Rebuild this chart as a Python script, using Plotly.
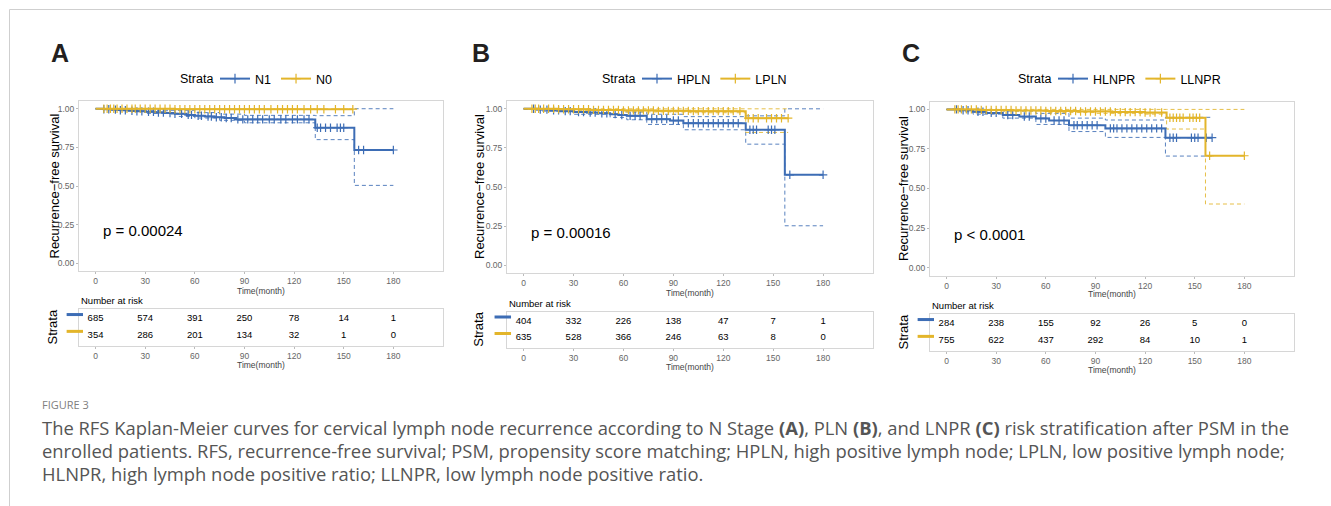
import plotly.graph_objects as go

W, H = 1331, 506
BLUE = "#3D6DB5"
YELLOW = "#E3B52A"
FONT = "Liberation Sans, Arial, sans-serif"
CAPFONT = "Open Sans, sans-serif"

months = [0, 30, 60, 90, 120, 150, 180]

# ---------------- Panel A : N stage ----------------
A_n1_t = [0, 5, 10, 15, 20, 25, 30, 36, 42, 48, 55, 60, 66, 72, 78, 85, 132.8, 156.4]
A_n1_s = [1.0, 0.997, 0.994, 0.99, 0.987, 0.983, 0.98, 0.976, 0.972, 0.967, 0.96, 0.955, 0.95, 0.945, 0.94, 0.931, 0.877, 0.733]
A_n1_end = 180
A_n1_up_t = [0, 30, 60, 75, 90, 132.8, 156.4]
A_n1_up = [1.0, 0.99, 0.975, 0.965, 0.957, 0.955, 1.0]
A_n1_lo_t = [0, 10, 30, 50, 60, 75, 90, 132.8, 156.4]
A_n1_lo = [1.0, 0.99, 0.97, 0.95, 0.94, 0.925, 0.909, 0.80, 0.504]
A_n1_cens = [5, 8, 12, 15, 18, 22, 25, 28, 32, 35, 38, 41, 45, 48, 52, 56, 58, 62, 64, 68, 70, 73, 76,
             79, 82, 86, 89, 92, 95, 98, 101, 105, 108, 112, 115, 119, 122, 126, 129, 134, 136, 139,
             142, 146, 148, 150, 159, 162, 180]
A_n0_t = [0, 48]
A_n0_s = [1.0, 0.997]
A_n0_end = 155.5
A_n0_cens = [5, 7, 9, 11, 13, 16, 19, 22, 24, 27, 30, 33, 36, 39, 42, 45, 48, 51, 54, 57, 60, 63, 66,
             69, 72, 75, 78, 81, 84, 87, 90, 93, 96, 99, 102, 106, 110, 113, 116, 119, 122, 126, 130,
             134, 138, 145, 150, 155.5]
A_names = ["N1", "N0"]
A_risk1 = [685, 574, 391, 250, 78, 14, 1]
A_risk2 = [354, 286, 201, 134, 32, 1, 0]
A_p = "p = 0.00024"

# ---------------- Panel B : PLN ----------------
B_h_t = [0, 8, 15, 22, 30, 38, 45, 52, 57, 62, 74, 88, 96, 133.5, 157]
B_h_s = [1.0, 0.995, 0.99, 0.985, 0.98, 0.976, 0.971, 0.966, 0.96, 0.955, 0.934, 0.925, 0.908, 0.866, 0.578]
B_h_end = 180
B_h_up_t = [0, 30, 60, 74, 96, 133.5, 157]
B_h_up = [1.0, 0.995, 0.98, 0.965, 0.95, 0.955, 1.0]
B_h_lo_t = [0, 10, 30, 52, 62, 74, 96, 133.5, 157]
B_h_lo = [1.0, 0.985, 0.965, 0.945, 0.93, 0.9, 0.866, 0.774, 0.252]
B_h_cens = [6, 10, 14, 18, 21, 25, 28, 33, 36, 40, 43, 47, 50, 55, 59, 64, 67, 70, 77, 80, 83, 86,
            90, 93, 99, 102, 105, 108, 111, 114, 117, 120, 123, 126, 129, 136, 138, 140, 147, 149, 151,
            160, 180]
B_l_t = [0, 20, 40, 60, 80, 100, 133.5]
B_l_s = [1.0, 0.997, 0.993, 0.99, 0.987, 0.985, 0.94]
B_l_end = 159
B_l_up_t = [0, 133.5]
B_l_up = [1.0, 1.0]
B_l_lo_t = [0, 30, 60, 100, 133.5]
B_l_lo = [1.0, 0.99, 0.98, 0.975, 0.849]
B_l_cens = [5, 7, 9, 12, 15, 18, 21, 24, 27, 30, 33, 36, 39, 42, 45, 48, 51, 54, 57, 60, 63, 66, 69,
            72, 75, 78, 81, 84, 87, 90, 93, 96, 99, 102, 105, 108, 111, 114, 117, 120, 123, 126, 130,
            135, 138, 141, 146, 149, 152, 155, 159]
B_names = ["HPLN", "LPLN"]
B_risk1 = [404, 332, 226, 138, 47, 7, 1]
B_risk2 = [635, 528, 366, 246, 63, 8, 0]
B_p = "p = 0.00016"

# ---------------- Panel C : LNPR ----------------
C_h_t = [0, 8, 16, 24, 34, 44, 54, 62, 74, 96, 132.3]
C_h_s = [1.0, 0.995, 0.985, 0.978, 0.964, 0.955, 0.943, 0.93, 0.90, 0.88, 0.821]
C_h_end = 160.5
C_h_up_t = [0, 16, 34, 54, 74, 96, 132.3]
C_h_up = [1.0, 0.997, 0.99, 0.975, 0.945, 0.933, 0.95]
C_h_lo_t = [0, 8, 16, 34, 54, 74, 96, 132.3]
C_h_lo = [1.0, 0.985, 0.97, 0.945, 0.905, 0.86, 0.823, 0.705]
C_h_cens = [6, 10, 13, 19, 22, 27, 30, 37, 40, 47, 50, 57, 60, 65, 68, 71, 77, 79, 82, 85, 88, 91,
            99, 101, 103, 106, 109, 112, 115, 118, 121, 124, 127, 130, 135, 137, 139, 148, 150, 152,
            157, 160.5]
C_l_t = [0, 20, 40, 60, 80, 100, 120, 133, 156.5]
C_l_s = [1.0, 0.997, 0.993, 0.99, 0.987, 0.983, 0.98, 0.947, 0.707]
C_l_end = 180
C_l_up_t = [0, 133]
C_l_up = [1.0, 1.0]
C_l_lo_t = [0, 30, 60, 90, 120, 133, 156.5]
C_l_lo = [1.0, 0.99, 0.98, 0.975, 0.97, 0.876, 0.402]
C_l_cens = [5, 7, 9, 12, 15, 18, 21, 24, 27, 30, 33, 36, 39, 42, 45, 48, 51, 54, 57, 60, 63, 66, 69,
            72, 75, 78, 81, 84, 87, 90, 93, 96, 99, 102, 105, 108, 111, 114, 117, 120, 123, 126, 130,
            135, 137, 139, 141, 143, 147, 149, 151, 153, 159, 180]
C_names = ["HLNPR", "LLNPR"]
C_risk1 = [284, 238, 155, 92, 26, 5, 0]
C_risk2 = [755, 622, 437, 292, 84, 10, 1]
C_p = "p < 0.0001"

caption_head = "FIGURE 3"
caption_lines = [
    "The RFS Kaplan-Meier curves for cervical lymph node recurrence according to N Stage <b>(A)</b>, PLN <b>(B)</b>, and LNPR <b>(C)</b> risk stratification after PSM in the",
    "enrolled patients. RFS, recurrence-free survival; PSM, propensity score matching; HPLN, high positive lymph node; LPLN, low positive lymph node;",
    "HLNPR, high lymph node positive ratio; LLNPR, low lymph node positive ratio.",
]


def step_at(t, ts, ss):
    v = ss[0]
    for ti, si in zip(ts, ss):
        if ti <= t:
            v = si
    return v


def px(x):
    return x / W


def py(y):
    return 1 - y / H


def ann(text, x, y, size, color="black", xanchor="center", angle=0, bold=False, family=FONT):
    return dict(text=f"<b>{text}</b>" if bold else text, x=px(x), y=py(y), xref="paper",
                yref="paper", xanchor=xanchor, yanchor="middle", showarrow=False,
                textangle=angle, font=dict(size=size, family=family, color=color))


fig = go.Figure()
annotations = []
shapes = []

panels = [
    dict(letter="A", names=A_names, p=A_p,
         curves=[(A_n1_t, A_n1_s, A_n1_end, A_n1_up_t, A_n1_up, A_n1_lo_t, A_n1_lo, A_n1_cens, BLUE),
                 (A_n0_t, A_n0_s, A_n0_end, None, None, None, None, A_n0_cens, YELLOW)],
         risk=[A_risk1, A_risk2],
         geo=dict(x0=79, x1=443, kt=101, kb=271, tt=309, tb=346, let=(60, 53), ytitle=53.5,
                  strata=52, tm1=291, nar=300.7, tm2=364.5, strx=178, legx=215)),
    dict(letter="B", names=B_names, p=B_p,
         curves=[(B_h_t, B_h_s, B_h_end, B_h_up_t, B_h_up, B_h_lo_t, B_h_lo, B_h_cens, BLUE),
                 (B_l_t, B_l_s, B_l_end, B_l_up_t, B_l_up, B_l_lo_t, B_l_lo, B_l_cens, YELLOW)],
         risk=[B_risk1, B_risk2],
         geo=dict(x0=507, x1=873, kt=101, kb=273, tt=311.5, tb=348, let=(481, 53), ytitle=479,
                  strata=479, tm1=292.5, nar=303, tm2=367, strx=600, legx=637)),
    dict(letter="C", names=C_names, p=C_p,
         curves=[(C_h_t, C_h_s, C_h_end, C_h_up_t, C_h_up, C_h_lo_t, C_h_lo, C_h_cens, BLUE),
                 (C_l_t, C_l_s, C_l_end, C_l_up_t, C_l_up, C_l_lo_t, C_l_lo, C_l_cens, YELLOW)],
         risk=[C_risk1, C_risk2],
         geo=dict(x0=930, x1=1294, kt=101.5, kb=275.5, tt=314, tb=351, let=(911, 53), ytitle=903.5,
                  strata=903, tm1=294, nar=305.7, tm2=370, strx=1016, legx=1053)),
]

layout = {}
for i, pnl in enumerate(panels):
    g = pnl["geo"]
    ka = 2 * i + 1
    ta = 2 * i + 2
    kx = "x" if ka == 1 else f"x{ka}"
    ky = "y" if ka == 1 else f"y{ka}"
    tx, ty = f"x{ta}", f"y{ta}"
    legname = "legend" if i == 0 else f"legend{i + 1}"

    # confidence bands (dashed)
    for (ts, ss, end, ut, us, lt, ls, cens, col) in pnl["curves"]:
        if ut is not None:
            for ct, cs in ((ut, us), (lt, ls)):
                fig.add_trace(go.Scatter(
                    x=list(ct) + [end], y=list(cs) + [cs[-1]], mode="lines", line_shape="hv",
                    line=dict(color=col, width=1, dash="4px,3px"), opacity=0.85,
                    xaxis=kx, yaxis=ky, showlegend=False, hoverinfo="skip"))
    # survival curves + censor marks
    for j, (ts, ss, end, ut, us, lt, ls, cens, col) in enumerate(pnl["curves"]):
        fig.add_trace(go.Scatter(
            x=list(ts) + [end], y=list(ss) + [ss[-1]], mode="lines", line_shape="hv",
            line=dict(color=col, width=2), xaxis=kx, yaxis=ky, showlegend=False, hoverinfo="skip"))
        fig.add_trace(go.Scatter(
            x=cens, y=[step_at(c, ts, ss) for c in cens], mode="markers",
            marker=dict(symbol="cross-thin", size=6, line=dict(color=col, width=1.2), color=col),
            xaxis=kx, yaxis=ky, showlegend=False, hoverinfo="skip"))
        fig.add_trace(go.Scatter(
            x=[None], y=[None], mode="lines+markers", name=pnl["names"][j],
            line=dict(color=col, width=2),
            marker=dict(symbol="cross-thin", size=7, line=dict(color=col, width=1.2), color=col),
            xaxis=kx, yaxis=ky, legend=legname, showlegend=True))

    # risk table
    for j, (risk, yrow) in enumerate(((pnl["risk"][0], 2), (pnl["risk"][1], 1))):
        fig.add_trace(go.Scatter(
            x=months, y=[yrow] * len(months), mode="text", text=[str(v) for v in risk],
            textfont=dict(size=9.5, color="black", family=FONT), xaxis=tx, yaxis=ty,
            showlegend=False, hoverinfo="skip"))
        col = pnl["curves"][j][-1]
        shapes.append(dict(type="line", xref=f"{tx} domain", yref=ty, x0=-0.034, x1=0.011,
                           y0=yrow + 0.27, y1=yrow + 0.27, line=dict(color=col, width=3)))

    xd = [px(g["x0"]), px(g["x1"])]
    common_x = dict(domain=xd, range=[-10, 210], tickvals=months, ticks="outside", ticklen=2,
                    tickcolor="#bbbbbb", showline=True, mirror=True, linecolor="#d6d6d6",
                    linewidth=1, showgrid=False, zeroline=False,
                    tickfont=dict(size=8.5, color="#666666", family=FONT), automargin=False)
    layout["xaxis" if ka == 1 else f"xaxis{ka}"] = dict(common_x, anchor=ky)
    layout[f"xaxis{ta}"] = dict(common_x, anchor=ty)
    layout["yaxis" if ka == 1 else f"yaxis{ka}"] = dict(
        domain=[py(g["kb"]), py(g["kt"])], range=[-0.05, 1.05], tickvals=[0, 0.25, 0.5, 0.75, 1.0],
        ticktext=["0.00", "0.25", "0.50", "0.75", "1.00"], ticks="outside", ticklen=2,
        tickcolor="#bbbbbb", showline=True, mirror=True, linecolor="#d6d6d6", showgrid=False,
        zeroline=False, tickfont=dict(size=8.5, color="#666666", family=FONT), anchor=kx,
        automargin=False)
    layout[f"yaxis{ta}"] = dict(
        domain=[py(g["tb"]), py(g["tt"])], range=[0.4, 2.6], showticklabels=False, ticks="",
        showline=True, mirror=True, linecolor="#d6d6d6", showgrid=False, zeroline=False,
        anchor=tx, automargin=False)

    layout[legname] = dict(
        x=px(g["legx"]), y=py(79), xanchor="left", yanchor="middle", orientation="h",
        font=dict(size=12.5, family=FONT, color="black"), bgcolor="rgba(0,0,0,0)",
        itemwidth=30, tracegroupgap=0, borderwidth=0)

    xc = (g["x0"] + g["x1"]) / 2
    annotations += [
        ann(pnl["letter"], g["let"][0], g["let"][1], 25, color="#231f20", bold=True),
        ann("Strata", g["strx"], 79, 12.5, xanchor="left"),
        ann("Recurrence\u2212free survival", g["ytitle"], (g["kt"] + g["kb"]) / 2, 13, angle=-90),
        ann("Time(month)", xc, g["tm1"], 8.5, color="#444444"),
        ann("Time(month)", xc, g["tm2"], 8.5, color="#444444"),
        ann("Number at risk", g["x0"], g["nar"], 9.5, xanchor="left"),
        ann("Strata", g["strata"], (g["tt"] + g["tb"]) / 2, 13, angle=-90),
        dict(text=pnl["p"], x=3.5, y=0.21, xref=kx, yref=ky, xanchor="left", yanchor="middle",
             showarrow=False, font=dict(size=15, family=FONT, color="black")),
    ]

# caption
annotations.append(ann(caption_head, 40, 404, 11, color="#808080", xanchor="left", family=CAPFONT))
for k, line in enumerate(caption_lines):
    annotations.append(ann(line, 40, 427 + 23 * k, 18.4, color="#555555", xanchor="left",
                           family=CAPFONT))

# frame lines of the page
shapes += [
    dict(type="line", xref="paper", yref="paper", x0=px(9.5), x1=1, y0=py(9.5), y1=py(9.5),
         line=dict(color="#cfcfcf", width=1)),
    dict(type="line", xref="paper", yref="paper", x0=px(9.5), x1=px(9.5), y0=py(9.5), y1=0,
         line=dict(color="#cfcfcf", width=1)),
]

fig.update_layout(width=W, height=H, margin=dict(l=0, r=0, t=0, b=0), paper_bgcolor="white",
                  plot_bgcolor="white", annotations=annotations, shapes=shapes, **layout)
fig.write_html("out.html", config={"displayModeBar": False},
               post_script="document.body.style.margin='0';")
